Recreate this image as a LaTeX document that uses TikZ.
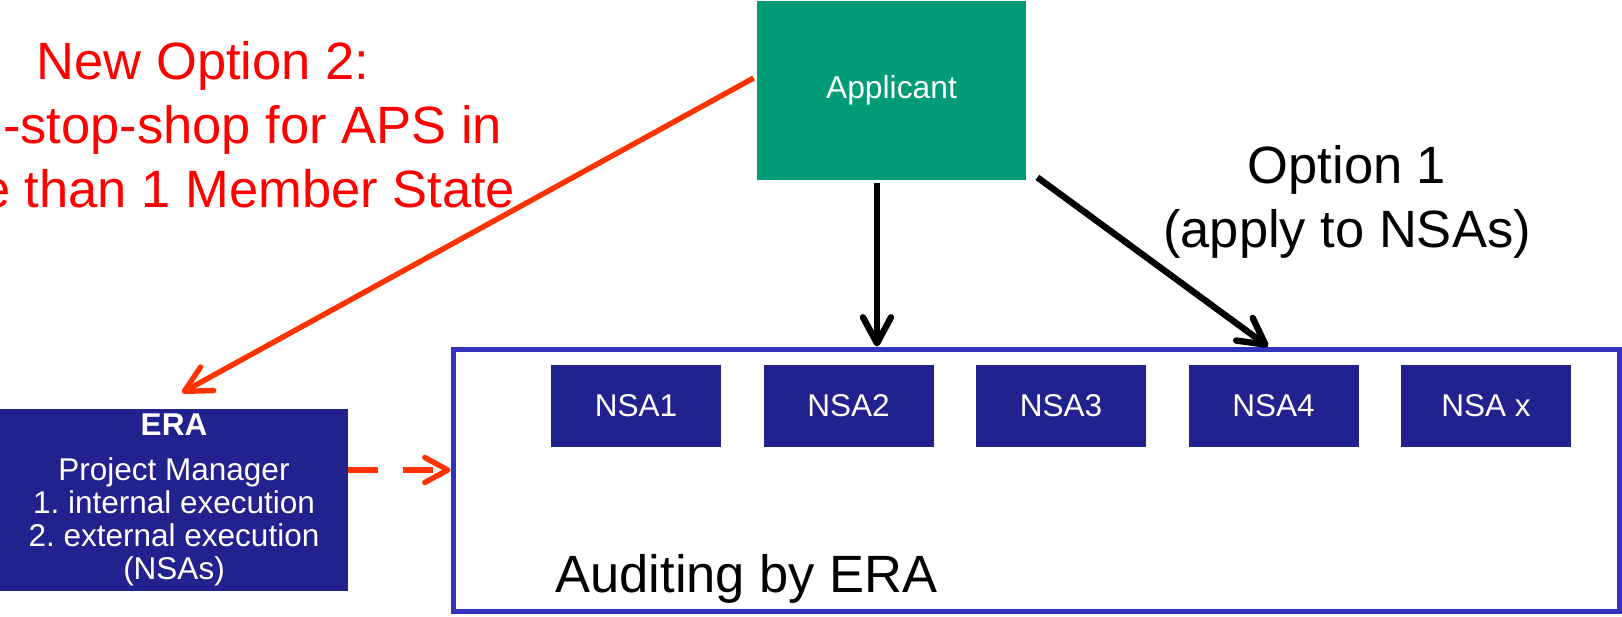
\documentclass[tikz,border=0pt]{standalone}
\usepackage{fontspec}
\setmainfont{Liberation Sans}
\usetikzlibrary{arrows.meta}
\definecolor{appgreen}{RGB}{0,155,119}
\definecolor{navy}{RGB}{34,34,143}
\definecolor{frameblue}{RGB}{51,51,187}
\definecolor{arrred}{RGB}{255,51,0}
\frenchspacing
\begin{document}
\begin{tikzpicture}[x=0.5pt,y=-0.5pt,
  navybox/.style={draw=none, fill=navy, text=white, inner sep=0pt,
    minimum width=85pt, minimum height=41pt, font=\fontsize{15.75}{16.5}\selectfont},
  bigtext/.style={font=\fontsize{26.25}{32}\selectfont, inner sep=0pt, align=center},
  blackarrow/.style={line width=3.2pt, -{Straight Barb[length=13pt,width=14pt,round]}},
  redarrow/.style={line width=2.7pt, draw=arrred, -{Straight Barb[length=13pt,width=13.5pt,round]}},
]
\useasboundingbox (0,0) rectangle (1622,616);
\clip (0,0) rectangle (1622,616);

% boxes
\node[draw=none, fill=appgreen, text=white, inner sep=0pt,
  minimum width=134.5pt, minimum height=89.5pt,
  font=\fontsize{15.9}{17}\selectfont] (app) at (891.5,90.5) {Applicant};

\node[draw=frameblue, line width=2.5pt, fill=white, inner sep=0pt,
  minimum width=583pt, minimum height=131pt] (big) at (1036,480) {};

\node[navybox] (nsa1) at (636,406) {NSA1};
\node[navybox] (nsa2) at (848.5,406) {NSA2};
\node[navybox] (nsa3) at (1061,406) {NSA3};
\node[navybox] (nsa4) at (1273.5,406) {NSA4};
\node[navybox] (nsax) at (1486,406) {NSA x};

\node[navybox, minimum width=174pt, minimum height=91pt, align=center]
  (era) at (174,500) {\textbf{ERA}\\[6pt]Project Manager\\1. internal execution\\2. external execution\\(NSAs)};

% texts (anchor=base is the baseline of the last line)
\node[bigtext, text=red, anchor=base] (opt2) at (203,207)
  {New Option 2:\\One-stop-shop for APS in\\more than 1 Member State};
\node[bigtext, anchor=base] (opt1) at (1347,247) {Option 1\\(apply to NSAs)};
\node[bigtext, anchor=base west] (audit) at (555,592) {Auditing by ERA};

% connectors
\coordinate (vtop) at ([xshift=-7.25pt,yshift=-1.5pt]app.south);
\draw[blackarrow] (vtop) -- (vtop |- big.north);
\draw[blackarrow] ([xshift=5.5pt,yshift=1.5pt]app.south east) -- ([xshift=116pt]big.north);
\draw[redarrow] ([xshift=-1.5pt,yshift=6.25pt]app.west) -- ([xshift=4pt,yshift=8pt]era.north);
\coordinate (dstart) at ([yshift=15pt]era.east);
\draw[line width=2.7pt, draw=arrred, line cap=butt, dash pattern=on 15pt off 12.5pt,
  -{Straight Barb[length=11.5pt,width=12.5pt,round]}] (dstart) -- (dstart -| big.west);
\end{tikzpicture}
\end{document}
